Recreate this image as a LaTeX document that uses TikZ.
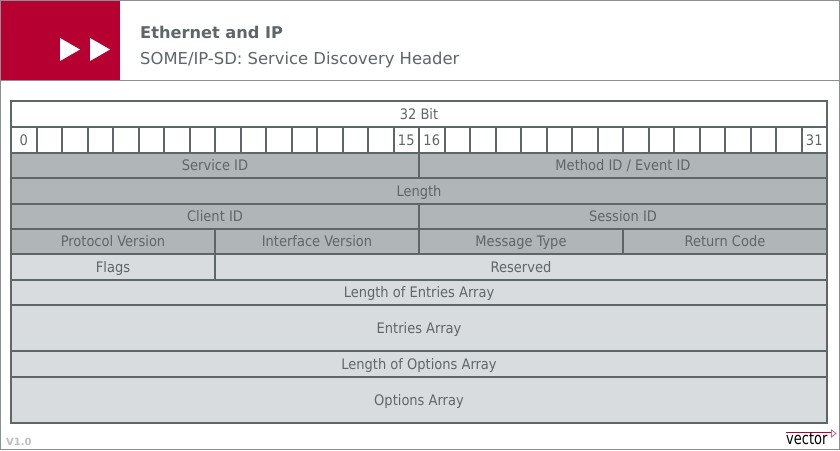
\documentclass[tikz,border=0pt]{standalone}
\usepackage{fontspec}
\usepackage{graphicx}
\setmainfont{DejaVu Sans}
\newfontfamily\condfont{DejaVu Sans Condensed}
\definecolor{txt}{HTML}{5F6668}
\definecolor{linec}{HTML}{5F6668}
\definecolor{frame}{HTML}{8A9094}
\definecolor{dark}{HTML}{B0B5B8}
\definecolor{light}{HTML}{D9DCDF}
\definecolor{vred}{HTML}{B70032}
\tikzset{
 cellbox/.style={draw=linec,line width=2pt,text=txt,inner sep=0pt,outer sep=0pt,font=\condfont\fontsize{14.5}{14.5}\selectfont,align=center,text height=13pt,text depth=2.5pt},
 plain/.style={cellbox,fill=white},
 darkc/.style={cellbox,fill=dark},
 lightc/.style={cellbox,fill=light},
}
\newcommand{\cellnode}[7]{%
 \node[#2,minimum width=#5pt-#3pt,minimum height=#6pt-#4pt,anchor=north west] (#1) at (#3,#4) {#7};}
\begin{document}
\begin{tikzpicture}[x=1pt,y=-1pt]
\useasboundingbox (0,0) rectangle (840,450);
\fill[white] (0,0) rectangle (840,450);
\fill[vred] (0,0) rectangle (120,80);
\draw[frame,line width=1.2pt] (0.6,0.6) rectangle (839.4,449.4);
\draw[frame,line width=1.2pt] (0,80.5) -- (840,80.5);
\fill[white] (60,38) -- (80,49.5) -- (60,61) -- cycle;
\fill[white] (90,38) -- (110,49.5) -- (90,61) -- cycle;
\node[anchor=base west,inner sep=0pt,text=txt,font=\fontsize{16.2}{16}\selectfont\bfseries] (title) at (140,38.5) {Ethernet and IP};
\node[anchor=base west,inner sep=0pt,text=txt,font=\fontsize{16.4}{16}\selectfont] (subtitle) at (140,64) {SOME/IP-SD: Service Discovery Header};
\cellnode{bits}{plain}{11}{101}{827}{127}{32 Bit}
\foreach \i in {0,...,31}{
  \pgfmathsetmacro{\xa}{11+25.5*\i}
  \pgfmathsetmacro{\xb}{\xa+25.5}
  \ifnum\i=0 \def\lab{0}\else\ifnum\i=15 \def\lab{15}\else\ifnum\i=16 \def\lab{16}\else\ifnum\i=31 \def\lab{31}\else\def\lab{}\fi\fi\fi\fi
  \cellnode{b\i}{plain}{\xa}{127}{\xb}{152.5}{\lab}
}
\cellnode{sid}{darkc}{11}{152.5}{419}{178}{Service ID}
\cellnode{mid}{darkc}{419}{152.5}{827}{178}{Method ID / Event ID}
\cellnode{len}{darkc}{11}{178}{827}{203.5}{Length}
\cellnode{cid}{darkc}{11}{203.5}{419}{229}{Client ID}
\cellnode{ses}{darkc}{419}{203.5}{827}{229}{Session ID}
\cellnode{pv}{darkc}{11}{229}{215}{254}{Protocol Version}
\cellnode{iv}{darkc}{215}{229}{419}{254}{Interface Version}
\cellnode{mt}{darkc}{419}{229}{623}{254}{Message Type}
\cellnode{rc}{darkc}{623}{229}{827}{254}{Return Code}
\cellnode{fl}{lightc}{11}{254}{215}{279.5}{Flags}
\cellnode{res}{lightc}{215}{254}{827}{279.5}{Reserved}
\cellnode{lea}{lightc}{11}{279.5}{827}{305}{Length of Entries Array}
\cellnode{ea}{lightc}{11}{305}{827}{351}{Entries Array}
\cellnode{loa}{lightc}{11}{351}{827}{377}{Length of Options Array}
\cellnode{oa}{lightc}{11}{377}{827}{423}{Options Array}
\node[anchor=base west,inner sep=0pt,text=black!25,font=\fontsize{10}{10}\selectfont\bfseries] (ver) at (6,445) {V1.0};
% logo
\draw[vred,line width=1pt] (786,432.6) -- (831,432.6);
\draw[vred!60,line width=0.9pt,fill=white] (831.5,430) -- (836,433.5) -- (831.5,437) -- cycle;
\node[anchor=base west,inner sep=0pt,text=black,font=\fontsize{16.5}{16}\selectfont] (logo) at (786,444) {\scalebox{0.79}[1]{vector}};
\end{tikzpicture}
\end{document}
